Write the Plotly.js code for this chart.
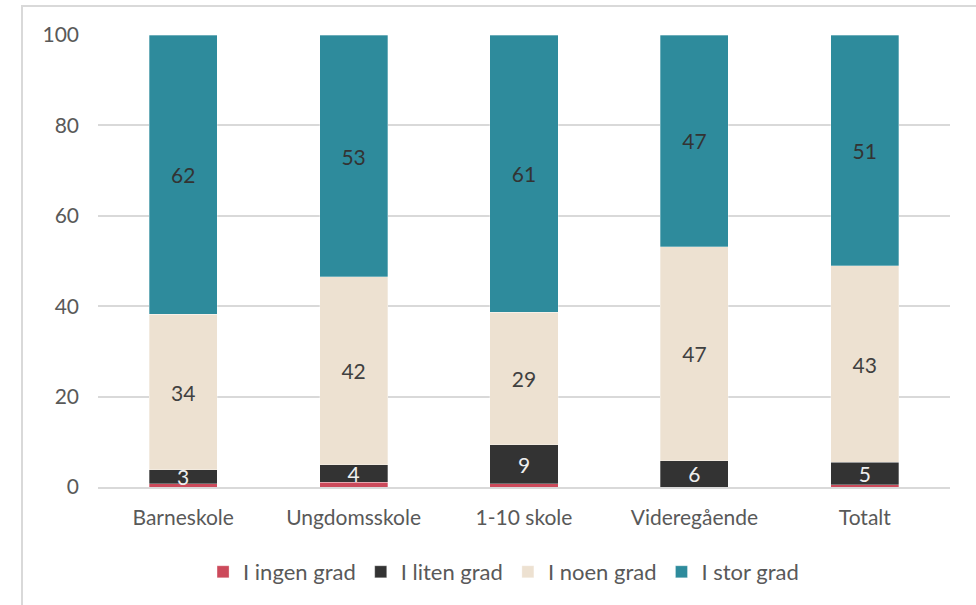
<!DOCTYPE html>
<html><head><meta charset="utf-8">
<script src="https://cdn.plot.ly/plotly-3.0.1.min.js"></script>
<style>
html,body{margin:0;padding:0;background:#fff;}
#wrap{position:relative;width:976px;height:605px;}
#chart{position:absolute;left:0;top:0;width:976px;height:605px;}
#frame{position:absolute;left:21px;top:5px;width:960px;height:610px;border-left:2px solid #d9d9d9;border-top:2px solid #d9d9d9;pointer-events:none;}
</style></head>
<body><div id="wrap"><div id="chart"></div><div id="frame"></div></div>
<script>
const categories = ['Barneskole', 'Ungdomsskole', '1-10 skole', 'Videregående', 'Totalt'];
const seriesNames = ['I ingen grad', 'I liten grad', 'I noen grad', 'I stor grad'];
const ingenGrad = [0.7, 1.0, 0.7, 0.0, 0.5];
const litenGrad = [3.1, 3.9, 8.7, 5.8, 5.0];
const noenGrad = [34.4, 41.6, 29.3, 47.4, 43.4];
const storGrad = [61.8, 53.4, 61.3, 46.8, 51.1];
const yTicks = [0, 20, 40, 60, 80, 100];

const colors = ['#cc4a5b', '#333333', '#ede1d1', '#2e8b9c'];
const textColors = ['#ffffff', '#eeeeee', '#404040', '#333333'];
const values = [ingenGrad, litenGrad, noenGrad, storGrad];
const font = 'Lato, "Open Sans", sans-serif';

const traces = values.map((v, i) => ({
  type: 'bar',
  name: seriesNames[i],
  x: categories,
  y: v,
  marker: {color: colors[i], line: {color: 'rgba(255,255,255,0.6)', width: 0.5}},
  text: v.map(n => Math.round(n).toString()),
  textposition: i === 0 ? 'none' : 'inside',
  insidetextanchor: 'middle',
  textangle: 0,
  textfont: {family: font, size: 21, color: textColors[i]},
  hoverinfo: 'none'
}));

const layout = {
  width: 976, height: 605,
  margin: {l: 98, r: 26, t: 35, b: 118},
  barmode: 'stack',
  bargap: 0.6,
  paper_bgcolor: '#ffffff',
  plot_bgcolor: '#ffffff',
  showlegend: true,
  uniformtext: {mode: 'show', minsize: 21},
  legend: {orientation: 'h', x: 0.476, xanchor: 'center', y: -0.188, yanchor: 'middle',
           font: {family: font, size: 22, color: '#595959'}, traceorder: 'normal'},
  xaxis: {tickfont: {family: font, size: 21, color: '#595959'}, showline: true,
          linecolor: '#d9d9d9', linewidth: 2, ticks: '', showgrid: false, ticklabelstandoff: 11},
  yaxis: {range: [0, 100], tickvals: yTicks, ticktext: yTicks.map(String),
          tickfont: {family: font, size: 21, color: '#595959'}, showgrid: true,
          gridcolor: '#d9d9d9', gridwidth: 2, zeroline: false, showline: false, ticks: '', ticklen: 0,
          ticklabelstandoff: 18, automargin: false},
  font: {family: font}
};
Plotly.newPlot('chart', traces, layout, {displayModeBar: false, staticPlot: true});
</script></body></html>
